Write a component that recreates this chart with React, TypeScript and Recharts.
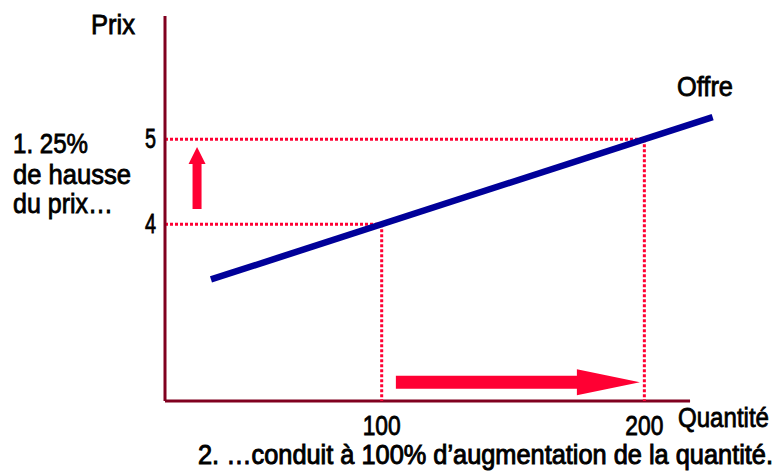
import React from 'react';
import { ComposedChart, Line, XAxis, YAxis, ReferenceLine } from 'recharts';

// supply curve (quantity, price)
const offre = [
  { q: 35, p: 3.35 },
  { q: 226, p: 5.26 },
];

const xTicks = [100, 200];
const yTicks = [4, 5];

// guide points
const pointA = { q: 100, p: 4 };
const pointB = { q: 200, p: 5 };

const X_MIN = 17.5;
const X_MAX = 228.8;
const Y_MIN = 1.92;
const Y_MAX = 6.45;
const X_AXIS_END = 217.4;

// arrows: [start, tip]
const upArrow = [
  { q: 29.7, p: 4.18 },
  { q: 29.7, p: 4.91 },
];
const rightArrow = [
  { q: 105.4, p: 2.14 },
  { q: 198.3, p: 2.14 },
];

const FONT = "'Liberation Sans', Arial, sans-serif";
const AXIS = '#80001F';
const RED = '#FF0033';
const BLUE = '#000099';

const arrowShape = (shaft: number, head: number, headLen: number) => (props: any) => {
  const { x1, y1, x2, y2 } = props;
  const dx = x2 - x1;
  const dy = y2 - y1;
  const len = Math.sqrt(dx * dx + dy * dy) || 1;
  const ux = dx / len;
  const uy = dy / len;
  const nx = -uy;
  const ny = ux;
  const bx = x2 - ux * headLen;
  const by = y2 - uy * headLen;
  const pts = [
    [x1 + nx * shaft / 2, y1 + ny * shaft / 2],
    [bx + nx * shaft / 2, by + ny * shaft / 2],
    [bx + nx * head / 2, by + ny * head / 2],
    [x2, y2],
    [bx - nx * head / 2, by - ny * head / 2],
    [bx - nx * shaft / 2, by - ny * shaft / 2],
    [x1 - nx * shaft / 2, y1 - ny * shaft / 2],
  ];
  return <polygon points={pts.map((p) => p.join(',')).join(' ')} fill={RED} />;
};

// narrow-looking text: squeeze to the measured width
const T = ({ x, y, w, size = 27, anchor = 'start', children }: any) => (
  <text
    x={x}
    y={y}
    textAnchor={anchor}
    fontFamily={FONT}
    fontSize={size}
    fill="#000"
    stroke="#000"
    strokeWidth={0.8}
    textLength={w}
    lengthAdjust="spacingAndGlyphs"
  >
    {children}
  </text>
);

const XTick = (props: any) => {
  const { x, y, payload } = props;
  return (
    <T x={x} y={y + 34} w={38} anchor="middle">
      {payload.value}
    </T>
  );
};

const YTick = (props: any) => {
  const { x, y, payload } = props;
  return (
    <T x={x - 9} y={y + 9} w={11} anchor="end">
      {payload.value}
    </T>
  );
};

const dotted = { stroke: RED, strokeWidth: 3, strokeDasharray: '3 2', ifOverflow: 'visible' as const };

export default function App() {
  return (
    <div style={{ position: 'absolute', left: 0, top: 0, width: 784, height: 473, background: '#fff' }}>
      <ComposedChart width={784} height={473} data={offre} margin={{ top: 16, right: 64, bottom: 71, left: 164 }}>
        <XAxis
          type="number"
          dataKey="q"
          domain={[X_MIN, X_MAX]}
          allowDataOverflow
          ticks={xTicks}
          height={1}
          axisLine={false}
          tickLine={false}
          tickSize={0}
          tickMargin={0}
          tick={<XTick />}
          interval={0}
        />
        <YAxis
          type="number"
          dataKey="p"
          domain={[Y_MIN, Y_MAX]}
          allowDataOverflow
          ticks={yTicks}
          width={1}
          axisLine={{ stroke: AXIS, strokeWidth: 3 }}
          tickLine={false}
          tickSize={0}
          tickMargin={0}
          tick={<YTick />}
          interval={0}
        />
        <ReferenceLine
          segment={[{ x: X_MIN, y: Y_MIN }, { x: X_AXIS_END, y: Y_MIN }]}
          stroke={AXIS}
          strokeWidth={3}
          ifOverflow="visible"
        />
        <ReferenceLine segment={[{ x: X_MIN, y: pointB.p }, { x: pointB.q, y: pointB.p }]} {...dotted} />
        <ReferenceLine segment={[{ x: X_MIN, y: pointA.p }, { x: pointA.q, y: pointA.p }]} {...dotted} />
        <ReferenceLine segment={[{ x: pointA.q, y: pointA.p }, { x: pointA.q, y: Y_MIN }]} {...dotted} />
        <ReferenceLine segment={[{ x: pointB.q, y: pointB.p }, { x: pointB.q, y: Y_MIN }]} {...dotted} />
        <ReferenceLine
          segment={[{ x: upArrow[0].q, y: upArrow[0].p }, { x: upArrow[1].q, y: upArrow[1].p }]}
          ifOverflow="visible"
          shape={arrowShape(9, 17, 17)}
        />
        <ReferenceLine
          segment={[{ x: rightArrow[0].q, y: rightArrow[0].p }, { x: rightArrow[1].q, y: rightArrow[1].p }]}
          ifOverflow="visible"
          shape={arrowShape(13, 26, 63)}
        />
        <Line
          type="linear"
          dataKey="p"
          stroke={BLUE}
          strokeWidth={6.5}
          dot={false}
          activeDot={false}
          isAnimationActive={false}
        />
      </ComposedChart>
      <svg width={784} height={473} style={{ position: 'absolute', left: 0, top: 0, pointerEvents: 'none' }}>
        <T x={91} y={34} w={44}>Prix</T>
        <T x={13} y={153} w={75}>1. 25%</T>
        <T x={13} y={184} w={118}>de hausse</T>
        <T x={13} y={213} w={100}>du prix…</T>
        <T x={677} y={96} w={56}>Offre</T>
        <T x={678} y={427} w={91}>Quantité</T>
        <g transform="translate(198 464) scale(1 1.2)">
          <T x={0} y={0} w={575} size={22.5}>2. …conduit à 100% d’augmentation de la quantité.</T>
        </g>
      </svg>
    </div>
  );
}
